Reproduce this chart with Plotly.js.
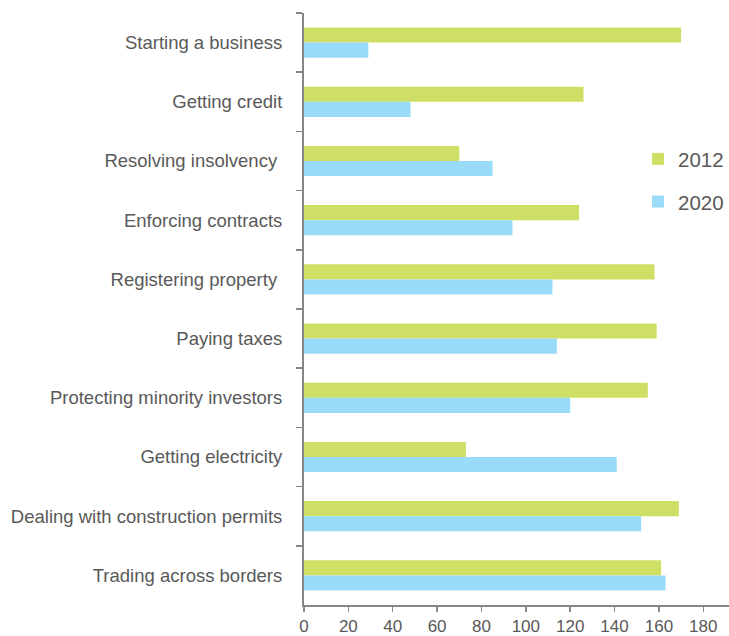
<!DOCTYPE html>
<html>
<head>
<meta charset="utf-8">
<script src="https://cdn.plot.ly/plotly-3.0.1.min.js"></script>
<style>
  html, body { margin: 0; padding: 0; background: #ffffff; }
  #chart { width: 729px; height: 636px; }
</style>
</head>
<body>
<div id="chart"></div>
<script>
// Doing Business indicator rankings, listed top to bottom
const categories = [
  "Starting a business",
  "Getting credit",
  "Resolving insolvency ",
  "Enforcing contracts",
  "Registering property ",
  "Paying taxes",
  "Protecting minority investors",
  "Getting electricity",
  "Dealing with construction permits",
  "Trading across borders"
];
const rank2012 = [170, 126, 70, 124, 158, 159, 155, 73, 169, 161];
const rank2020 = [29, 48, 85, 94, 112, 114, 120, 141, 152, 163];
const xTicks = [0, 20, 40, 60, 80, 100, 120, 140, 160, 180];

const textColor = "#595959";
const axisColor = "#868686";
const fontFamily = "Liberation Sans, Arial, sans-serif";

const traces = [
  {
    type: "bar", orientation: "h", name: "2012",
    y: categories, x: rank2012,
    marker: { color: "#cfdf65" },
    legendgroup: "a", hoverinfo: "x+y"
  },
  {
    type: "bar", orientation: "h", name: "2020",
    y: categories, x: rank2020,
    marker: { color: "#98dcf9" },
    legendgroup: "b", hoverinfo: "x+y"
  }
];

const layout = {
  width: 729, height: 636,
  margin: { l: 304, r: 0, t: 13, b: 31, pad: 0, autoexpand: false },
  paper_bgcolor: "#ffffff", plot_bgcolor: "#ffffff",
  font: { family: fontFamily, color: textColor, size: 18.5 },
  barmode: "group",
  bargap: 0.49, bargroupgap: 0,
  showlegend: true,
  legend: {
    x: 1, y: 0.787, xanchor: "right", yanchor: "top",
    traceorder: "grouped", tracegroupgap: 13,
    font: { size: 20.5, color: textColor },
    bgcolor: "rgba(0,0,0,0)"
  },
  xaxis: {
    range: [0, 191.6], tickvals: xTicks, ticktext: xTicks.map(String),
    showgrid: false, zeroline: false,
    showline: true, linecolor: axisColor, linewidth: 2,
    ticks: "outside", ticklen: 5, tickcolor: axisColor, tickwidth: 1.5,
    tickfont: { size: 17, color: textColor },
    fixedrange: true
  },
  yaxis: {
    type: "category", autorange: "reversed",
    showgrid: false, zeroline: false,
    showline: true, linecolor: axisColor, linewidth: 2,
    ticks: "outside", tickson: "boundaries", ticklen: 6,
    tickcolor: axisColor, tickwidth: 1.5,
    tickfont: { size: 18.5, color: textColor },
    ticklabelstandoff: 16,
    fixedrange: true
  }
};

Plotly.newPlot("chart", traces, layout, { displayModeBar: false, staticPlot: true });
</script>
</body>
</html>
